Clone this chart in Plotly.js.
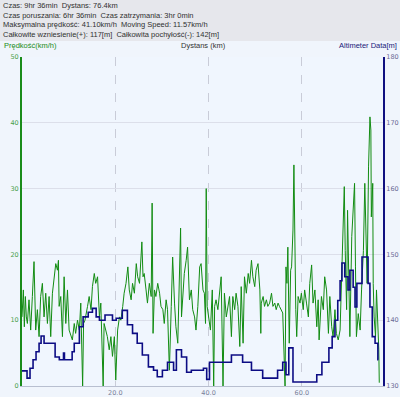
<!DOCTYPE html>
<html>
<head>
<meta charset="utf-8">
<script src="https://cdn.plot.ly/plotly-3.0.1.min.js"></script>
<style>
html,body{margin:0;padding:0;background:#f0f5fc;}
#chart{width:400px;height:397px;}
</style>
</head>
<body>
<div id="chart"></div>
<script>
// Header summary lines
const headerLines = [
  "Czas: 9hr 36min  Dystans: 76.4km",
  "Czas poruszania: 6hr 36min  Czas zatrzymania: 3hr 0min",
  "Maksymalna prędkość: 41.10km/h  Moving Speed: 11.57km/h",
  "Całkowite wzniesienie(+): 117[m]  Całkowita pochyłość(-): 142[m]"
];
const speedTitle = "Prędkość(km/h)";
const distTitle = "Dystans (km)";
const altTitle = "Altimeter Data[m]";
const xTickVals = [20, 40, 60];
const xTickText = ["20.0", "40.0", "60.0"];

// Speed series (km, km/h)
const speedKm = [0.0,0.07,0.29,0.5,0.72,0.93,1.15,1.5,1.86,2.22,2.58,2.94,3.3,3.66,4.0,4.37,4.73,5.09,5.45,5.81,6.16,6.52,6.88,7.24,7.6,7.81,7.96,8.31,8.67,9.03,9.39,9.75,10.1,10.5,10.8,11.2,11.5,11.9,12.3,12.6,13.0,13.2,13.5,14.05,14.4,14.8,15.1,15.5,15.8,16.2,16.6,16.9,17.4,17.6,18.0,18.3,18.7,19.06,19.4,19.8,20.1,20.5,20.9,21.2,21.6,21.9,22.3,22.7,23.0,23.4,23.7,24.1,24.5,24.8,25.2,25.5,25.7,25.95,26.2,26.6,26.9,27.3,27.7,27.9,28.1,28.4,28.7,29.1,29.5,29.8,30.2,30.5,30.9,31.2,31.6,32.0,32.3,32.7,33.0,33.4,33.8,34.0,34.2,34.5,34.8,35.2,35.5,35.9,36.3,36.6,37.0,37.3,37.7,38.1,38.4,38.8,39.1,39.35,39.5,39.7,40.1,40.4,40.8,41.1,41.3,41.6,42.0,42.4,42.7,43.1,43.4,43.8,44.2,44.5,44.9,45.2,45.6,45.9,46.3,46.7,47.0,47.4,47.7,48.1,48.5,48.8,49.2,49.5,49.9,50.2,50.6,51.0,51.2,51.3,51.7,52.0,52.4,52.7,53.1,53.5,53.8,54.2,54.5,54.9,55.2,55.6,55.9,56.4,56.5,56.6,56.8,57.0,57.3,57.6,57.8,58.1,58.3,58.5,58.7,58.9,59.2,59.6,59.9,60.3,60.6,61.0,61.4,61.7,62.1,62.4,62.8,63.2,63.5,63.7,64.0,64.2,64.6,64.9,65.3,65.7,66.0,66.4,66.7,67.1,67.4,67.8,68.2,68.5,68.9,69.1,69.3,69.6,69.8,70.0,70.3,70.7,71.0,71.3,71.5,71.7,72.1,72.5,72.8,73.2,73.5,73.8,74.0,74.3,74.6,74.8,74.9,75.2,75.3,75.5,75.8,76.0,76.3,76.5,76.6];
const speedVal = [10.5,11.6,14.6,9.0,13.6,10.5,9.5,13.1,8.5,13.6,18.9,8.5,11.6,7.5,13.6,15.6,10.5,14.1,9.5,13.6,7.5,14.1,16.6,18.6,17.6,19.1,12.1,13.6,7.5,16.6,9.5,14.6,8.5,7.5,7.0,9.5,8.0,10.0,8.5,12.6,0,9.5,10.0,12.1,13.6,11.6,15.1,17.1,15.6,16.6,10.5,12.6,0,9.5,8.5,7.5,5.5,7.5,4.5,7.5,0.9,8.5,10.5,10.0,12.1,14.1,15.6,18.1,14.6,13.1,15.6,14.1,18.6,16.6,15.6,18.6,21.9,16.6,17.1,14.6,12.6,15.6,13.6,27.8,8.0,14.6,13.6,15.6,14.1,12.1,11.6,9.5,13.1,11.6,2.4,12.1,19.6,12.6,9.0,6.5,16.6,24.0,10.5,14.6,17.1,19.1,21.1,13.1,14.6,11.6,10.5,8.5,12.1,18.1,18.6,14.6,14.1,9.5,30.0,12.1,9.5,8.5,14.6,0,12.1,13.1,11.6,15.1,16.6,0,14.1,10.5,12.6,13.6,7.5,13.6,11.6,14.1,12.1,6.0,15.1,6.5,16.6,14.1,17.1,15.6,19.1,16.6,15.1,17.6,18.6,14.6,8.0,12.6,13.6,12.1,13.1,12.1,12.6,14.1,12.1,12.6,11.6,12.6,12.1,11.6,11.1,0,14.6,18.1,15.6,21.1,6.5,17.6,18.1,23.7,33.6,19.6,11.6,7.5,13.6,12.6,14.1,11.6,14.6,12.6,10.5,15.6,18.4,12.6,14.6,9.0,13.1,7.0,12.6,13.6,11.6,16.6,14.6,8.0,13.6,9.0,7.5,11.6,8.0,7.0,8.5,15.6,22.7,30.3,20.6,11.6,26.7,15.6,7.5,22.7,27.3,30.8,18.1,7.5,11.0,8.5,14.6,20.6,30.8,22.7,15.6,33.3,40.9,38.9,25.7,30.8,15.6,10.5,7.5,14.6,9.5,5.5,0.5];

// Altitude series (km, m)
const altKm = [0.0,1.08,1.72,2.37,3.01,3.66,4.09,4.73,7.1,8.0,8.9,9.1,10.75,11.2,12.3,13.1,14.2,15.1,15.9,16.6,17.8,19.4,20.2,21.5,22.6,23.7,24.7,25.8,27.1,28.2,29.0,30.1,31.2,32.5,33.1,34.2,35.3,36.3,38.9,39.6,40.2,44.9,47.3,49.2,51.6,54.8,55.9,56.6,57.2,58.1,63.2,64.3,65.8,66.5,67.1,67.7,68.2,68.6,69.2,69.9,70.3,71.0,71.4,71.8,72.9,74.2,74.6,75.1,75.7,76.3,76.4];
const altVal = [132.3,131.2,132.7,134.0,135.2,136.5,137.6,136.5,134.4,134.0,135.0,134.0,135.2,136.5,139.0,140.5,141.2,141.8,140.5,140.0,140.8,140.0,140.3,141.5,139.3,138.0,136.5,134.7,132.9,132.4,131.4,132.4,133.6,132.4,135.5,134.4,132.1,132.4,132.7,131.0,133.6,134.7,133.6,132.4,131.2,132.4,133.6,131.7,135.8,130.6,131.7,133.6,135.8,137.5,140.0,143.0,146.0,148.7,146.6,144.6,147.6,145.0,142.0,145.6,149.6,145.6,142.0,137.5,136.5,134.0,134.0];

const traces = [
  {
    x: altKm, y: altVal, yaxis: 'y2', type: 'scatter', mode: 'lines',
    line: {color: '#0c0c84', width: 1.6, shape: 'hv'}, hoverinfo: 'skip'
  },
  {
    x: speedKm, y: speedVal, type: 'scatter', mode: 'lines',
    line: {color: '#128c12', width: 1}, hoverinfo: 'skip'
  }
];

const annotations = headerLines.map((t, i) => ({
  text: t, xref: 'paper', yref: 'paper', x: -21/361, y: 1 + (57 - 5 - i*10)/329,
  xanchor: 'left', yanchor: 'middle', showarrow: false,
  font: {family: 'Liberation Sans, Arial, sans-serif', size: 7.5, color: '#303030'}
}));
annotations.push(
  {text: speedTitle, xref: 'paper', yref: 'paper', x: -20/361, y: 1 + 11/329, xanchor: 'left', yanchor: 'middle', showarrow: false,
   font: {family: 'Liberation Sans, Arial, sans-serif', size: 7.5, color: '#1a8c1a'}},
  {text: distTitle, xref: 'paper', yref: 'paper', x: (203-22)/361, y: 1 + 11/329, xanchor: 'center', yanchor: 'middle', showarrow: false,
   font: {family: 'Liberation Sans, Arial, sans-serif', size: 7.5, color: '#333333'}},
  {text: altTitle, xref: 'paper', yref: 'paper', x: (399-22)/361, y: 1 + 11/329, xanchor: 'right', yanchor: 'middle', showarrow: false,
   font: {family: 'Liberation Sans, Arial, sans-serif', size: 7.5, color: '#20207a'}}
);

const layout = {
  width: 400, height: 397,
  margin: {l: 22, r: 17, t: 57, b: 11, pad: 0},
  paper_bgcolor: '#f0f5fc',
  plot_bgcolor: '#f0f6fe',
  showlegend: false,
  shapes: [
    {type: 'rect', xref: 'paper', yref: 'paper', x0: -0.1, x1: 1.1, y0: 1 + 16/329, y1: 1 + 60/329,
     fillcolor: '#e6e7ec', line: {width: 0}, layer: 'below'}
  ],
  xaxis: {
    range: [0, 77.4], tickvals: xTickVals, ticktext: xTickText,
    showgrid: true, gridcolor: '#c9ccd8', griddash: 'dash', gridwidth: 1,
    showline: true, linecolor: '#b8bfd0', linewidth: 1,
    ticks: '', zeroline: false,
    tickfont: {family: 'DejaVu Sans, sans-serif', size: 6.5, color: '#7a7f99'}
  },
  yaxis: {
    range: [0, 50], dtick: 10, side: 'left',
    showgrid: true, gridcolor: '#dcdfea', gridwidth: 1,
    showline: true, linecolor: '#1a8c1a', linewidth: 2,
    ticks: '', zeroline: false,
    tickfont: {family: 'DejaVu Sans, sans-serif', size: 6.5, color: '#4aa04a'}
  },
  yaxis2: {
    range: [130, 180], dtick: 10, side: 'right', overlaying: 'y',
    showgrid: false, showline: true, linecolor: '#101080', linewidth: 2,
    ticks: '', zeroline: false,
    tickfont: {family: 'DejaVu Sans, sans-serif', size: 6.5, color: '#6a6a95'}
  },
  annotations: annotations
};

Plotly.newPlot('chart', traces, layout, {displayModeBar: false, staticPlot: true});
</script>
</body>
</html>
